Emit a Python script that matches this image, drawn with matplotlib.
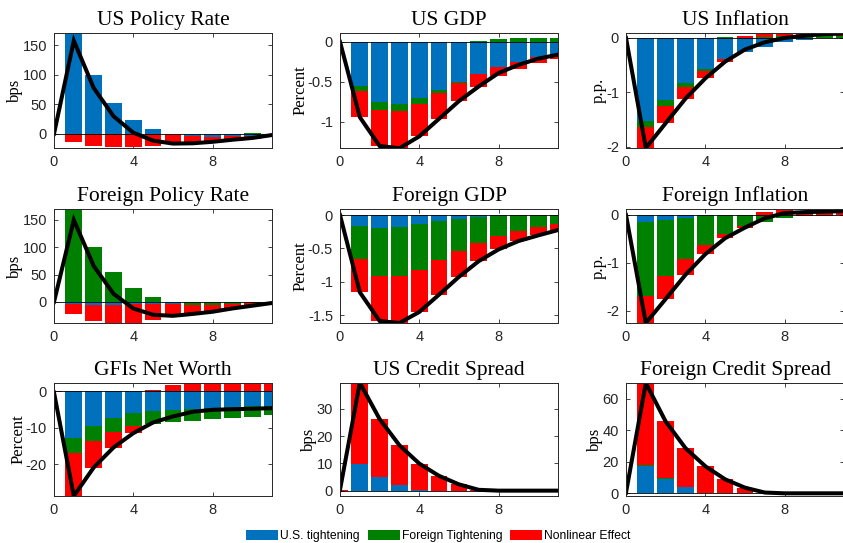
import numpy as np
import matplotlib
matplotlib.use("Agg")
import matplotlib.pyplot as plt
from matplotlib.patches import Patch

# Horizon (quarters)
horizon = np.arange(12)

# Decomposition of each response: U.S. tightening, foreign tightening, nonlinear effect
us_rate_us = [0, 172, 99, 52, 24, 8.5, -1, -4, -4.5, -3.5, -3, -1]
us_rate_fo = [0, 0, 0, 0, 0, 0, 0.5, 0, 0, 0, 1, 0]
us_rate_nl = [0, -14, -21, -22, -22, -20, -16, -12, -9, -6.5, -5, -1]

us_gdp_us = [0, -0.546, -0.75, -0.775, -0.704, -0.596, -0.5, -0.396, -0.317, -0.254, -0.19, -0.15]
us_gdp_fo = [0, -0.071, -0.096, -0.083, -0.066, -0.041, -0.01, 0.01, 0.04, 0.045, 0.05, 0.05]
us_gdp_nl = [0, -0.323, -0.454, -0.47, -0.41, -0.323, -0.23, -0.171, -0.113, -0.079, -0.07, -0.06]

us_inf_us = [0, -1.517, -1.146, -0.824, -0.576, -0.378, -0.254, -0.16, -0.08, -0.04, -0.01, 0]
us_inf_fo = [0, -0.118, -0.099, -0.076, -0.031, 0.01, 0, 0.02, 0.03, 0.04, 0.04, 0.04]
us_inf_nl = [0, -0.385, -0.32, -0.215, -0.136, -0.068, 0.04, 0.06, 0.05, 0.04, 0.04, 0.04]

fo_rate_us = [0, -3, -6, -6, -4, -4, -4, 0, 0, 0, 0, 0]
fo_rate_fo = [0, 171.4, 101, 55, 26, 9, 0.5, -6, -6, -4, -2, -0.5]
fo_rate_nl = [0, -18.4, -29, -34, -34, -28.5, -22, -16, -12, -8, -5, -1.5]

fo_gdp_us = [0, -0.16, -0.19, -0.18, -0.135, -0.095, -0.06, -0.035, -0.015, -0.005, 0, 0]
fo_gdp_fo = [0, -0.505, -0.715, -0.735, -0.68, -0.58, -0.48, -0.39, -0.305, -0.235, -0.185, -0.14]
fo_gdp_nl = [0, -0.49, -0.68, -0.70, -0.635, -0.515, -0.385, -0.265, -0.195, -0.15, -0.12, -0.085]

fo_inf_us = [0, -0.152, -0.11, -0.062, -0.028, -0.014, 0, 0, 0, 0, 0, 0]
fo_inf_fo = [0, -1.528, -1.17, -0.845, -0.588, -0.38, -0.235, -0.138, -0.06, -0.03, -0.015, -0.01]
fo_inf_nl = [0, -0.57, -0.47, -0.339, -0.201, -0.09, -0.028, 0.07, 0.1, 0.09, 0.085, 0.09]

nw_us = [0, -12.84, -9.63, -7.34, -5.96, -5.32, -5.05, -4.77, -4.59, -4.3, -4.1, -3.94]
nw_fo = [0, -4.13, -3.95, -3.76, -3.4, -3.58, -3.48, -3.3, -3.01, -3.0, -2.96, -2.66]
nw_nl = [-0.3, -11.73, -7.32, -4.3, -2.11, 0.37, 1.65, 2.48, 2.55, 2.4, 2.3, 2.0]

us_spread_us = [0, 9.8, 5.1, 2.1, 0.2, 0, 0, 0, 0, 0, 0, 0]
us_spread_fo = [0, 0, 0, 0, 0, 0, 0, 0, 0, 0, 0, 0]
us_spread_nl = [0.3, 29.7, 21.1, 14.5, 9.7, 5.4, 2.3, 0.3, 0, 0, 0, 0]

fo_spread_us = [0, 17.4, 9.3, 3.8, 0, 0, 0, 0, 0, 0, 0, 0]
fo_spread_fo = [0, 0.5, 0.4, 0, 0.3, 0, 0, 0, 0, 0, 0, 0]
fo_spread_nl = [0.4, 52.1, 35.9, 24.9, 16.9, 8.9, 3.6, 0.5, 0, 0, 0, 0]

titles = ["US Policy Rate", "US GDP", "US Inflation",
          "Foreign Policy Rate", "Foreign GDP", "Foreign Inflation",
          "GFIs Net Worth", "US Credit Spread", "Foreign Credit Spread"]
units = ["bps", "Percent", "p.p.", "bps", "Percent", "p.p.", "Percent", "bps", "bps"]
legend_labels = ["U.S. tightening", "Foreign Tightening", "Nonlinear Effect"]

panels = [
    (us_rate_us, us_rate_fo, us_rate_nl, (-24, 171), [0, 50, 100, 150]),
    (us_gdp_us, us_gdp_fo, us_gdp_nl, (-1.325, 0.11), [-1, -0.5, 0]),
    (us_inf_us, us_inf_fo, us_inf_nl, (-2.02, 0.09), [-2, -1, 0]),
    (fo_rate_us, fo_rate_fo, fo_rate_nl, (-38.6, 170), [0, 50, 100, 150]),
    (fo_gdp_us, fo_gdp_fo, fo_gdp_nl, (-1.615, 0.09), [-1.5, -1, -0.5, 0]),
    (fo_inf_us, fo_inf_fo, fo_inf_nl, (-2.25, 0.125), [-2, -1, 0]),
    (nw_us, nw_fo, nw_nl, (-28.7, 2.3), [-20, -10, 0]),
    (us_spread_us, us_spread_fo, us_spread_nl, (-1.96, 39.4), [0, 10, 20, 30]),
    (fo_spread_us, fo_spread_fo, fo_spread_nl, (-1.7, 70), [0, 20, 40, 60]),
]

colors = ["#0072BD", "#008000", "#FF0000"]
axis_color = "#262626"

W, H = 843, 543
fig = plt.figure(figsize=(W / 100, H / 100), dpi=100)

# axes boxes in pixels
col_x = [(54, 272), (340, 558), (626, 844)]
row_y = [(33, 148), (209, 323), (383, 496)]


def tick_fmt(v):
    return "%g" % v


for k, (a, b, c, ylim, yticks) in enumerate(panels):
    r, cidx = divmod(k, 3)
    x0, x1 = col_x[cidx]
    y0, y1 = row_y[r]
    ax = fig.add_axes([x0 / W, 1 - y1 / H, (x1 - x0) / W, (y1 - y0) / H])

    # stack positive and negative parts separately
    parts = np.array([a, b, c], dtype=float)
    pos_base = np.zeros(len(horizon))
    neg_base = np.zeros(len(horizon))
    for vals, col in zip(parts, colors):
        pos = np.where(vals > 0, vals, 0)
        neg = np.where(vals < 0, vals, 0)
        ax.bar(horizon, pos, 0.84, bottom=pos_base, color=col, linewidth=0, zorder=2)
        ax.bar(horizon, neg, 0.84, bottom=neg_base, color=col, linewidth=0, zorder=2)
        pos_base += pos
        neg_base += neg

    ax.axhline(0, color="k", lw=0.6, zorder=3)
    ax.plot(horizon, parts.sum(axis=0), color="k", lw=2.9, zorder=4,
            solid_joinstyle="miter")

    ax.set_xlim(0, 11)
    ax.set_ylim(*ylim)
    ax.set_xticks([0, 4, 8])
    ax.set_yticks(yticks)
    ax.set_yticklabels([tick_fmt(v) for v in yticks])
    ax.tick_params(direction="in", length=3, width=0.6, colors=axis_color,
                   labelsize=10.5, top=True, right=True, pad=5)
    for lab in ax.get_xticklabels() + ax.get_yticklabels():
        lab.set_family("Liberation Sans")
    for sp in ax.spines.values():
        sp.set_color(axis_color)
        sp.set_linewidth(0.7)
        sp.set_zorder(5)

    ax.set_title(titles[k], family="Liberation Serif", fontsize=15.5, pad=5.5)
    ax.set_ylabel(units[k], family="Liberation Serif", fontsize=12, labelpad=-0.5)

handles = [Patch(facecolor=col, edgecolor="none") for col in colors]
fig.legend(handles, legend_labels, loc="center", bbox_to_anchor=(438.5 / W, 1 - 536 / H),
           ncol=3, frameon=False, prop={"family": "Liberation Sans", "size": 8.7},
           handlelength=2.65, handleheight=0.85, handletextpad=0.17, columnspacing=0.65)

fig.savefig("out.png", dpi=100)
